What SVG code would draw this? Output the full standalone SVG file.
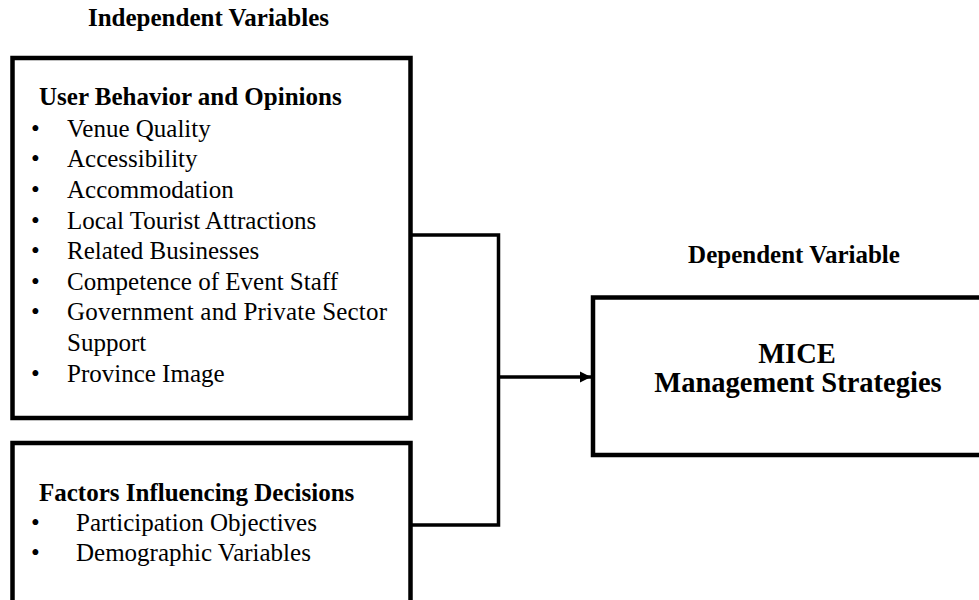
<svg xmlns="http://www.w3.org/2000/svg" width="979" height="600" viewBox="0 0 979 600">
  <style>
    text { font-family: "Liberation Serif", "Times New Roman", serif; fill: #000; }
    .head { font-size: 25px; font-weight: bold; }
    .item { font-size: 25px; }
    .big { font-size: 28.5px; font-weight: bold; }
    .box { fill: #fff; stroke: #000; stroke-width: 4.5; }
    .wire { fill: none; stroke: #000; stroke-width: 3.5; }
  </style>
  <defs>
    <marker id="arrow" markerUnits="userSpaceOnUse" markerWidth="12" markerHeight="12" refX="11" refY="6" orient="auto">
      <path d="M0,0.5 L11,6 L0,11.5 Z" fill="#000"/>
    </marker>
  </defs>
  <rect width="979" height="600" fill="#fff"/>

  <text class="head" x="208.5" y="26" text-anchor="middle">Independent Variables</text>
  <text class="head" x="794" y="263" text-anchor="middle">Dependent Variable</text>

  <g id="connectors">
    <path class="wire" d="M410.5 235 H498.5 V525 H410.5"/>
    <path class="wire" d="M498.5 377 H591" marker-end="url(#arrow)"/>
  </g>

  <g id="user-behavior">
    <rect class="box" x="12.5" y="58" width="398" height="360"/>
    <text class="head" x="39" y="105">User Behavior and Opinions</text>
    <g class="item">
      <text x="31" y="136.5">•</text><text x="67" y="136.5">Venue Quality</text>
      <text x="31" y="167.2">•</text><text x="67" y="167.2">Accessibility</text>
      <text x="31" y="197.8">•</text><text x="67" y="197.8">Accommodation</text>
      <text x="31" y="228.5">•</text><text x="67" y="228.5">Local Tourist Attractions</text>
      <text x="31" y="259.1">•</text><text x="67" y="259.1">Related Businesses</text>
      <text x="31" y="289.8">•</text><text x="67" y="289.8">Competence of Event Staff</text>
      <text x="31" y="320.4">•</text><text x="67" y="320.4" textLength="320" lengthAdjust="spacing">Government and Private Sector</text>
      <text x="67" y="351.1">Support</text>
      <text x="31" y="381.7">•</text><text x="67" y="381.7">Province Image</text>
    </g>
  </g>

  <g id="decision-factors">
    <rect class="box" x="12.5" y="443" width="398" height="180"/>
    <text class="head" x="39" y="500.7">Factors Influencing Decisions</text>
    <g class="item">
      <text x="31" y="530.5">•</text><text x="76" y="530.5">Participation Objectives</text>
      <text x="31" y="560.5">•</text><text x="76" y="560.5">Demographic Variables</text>
    </g>
  </g>

  <g id="mice-strategies">
    <rect class="box" x="593" y="297.5" width="410" height="157.5"/>
    <text class="big" x="797" y="363" text-anchor="middle">MICE</text>
    <text class="big" x="798" y="392" text-anchor="middle">Management Strategies</text>
  </g>
</svg>
